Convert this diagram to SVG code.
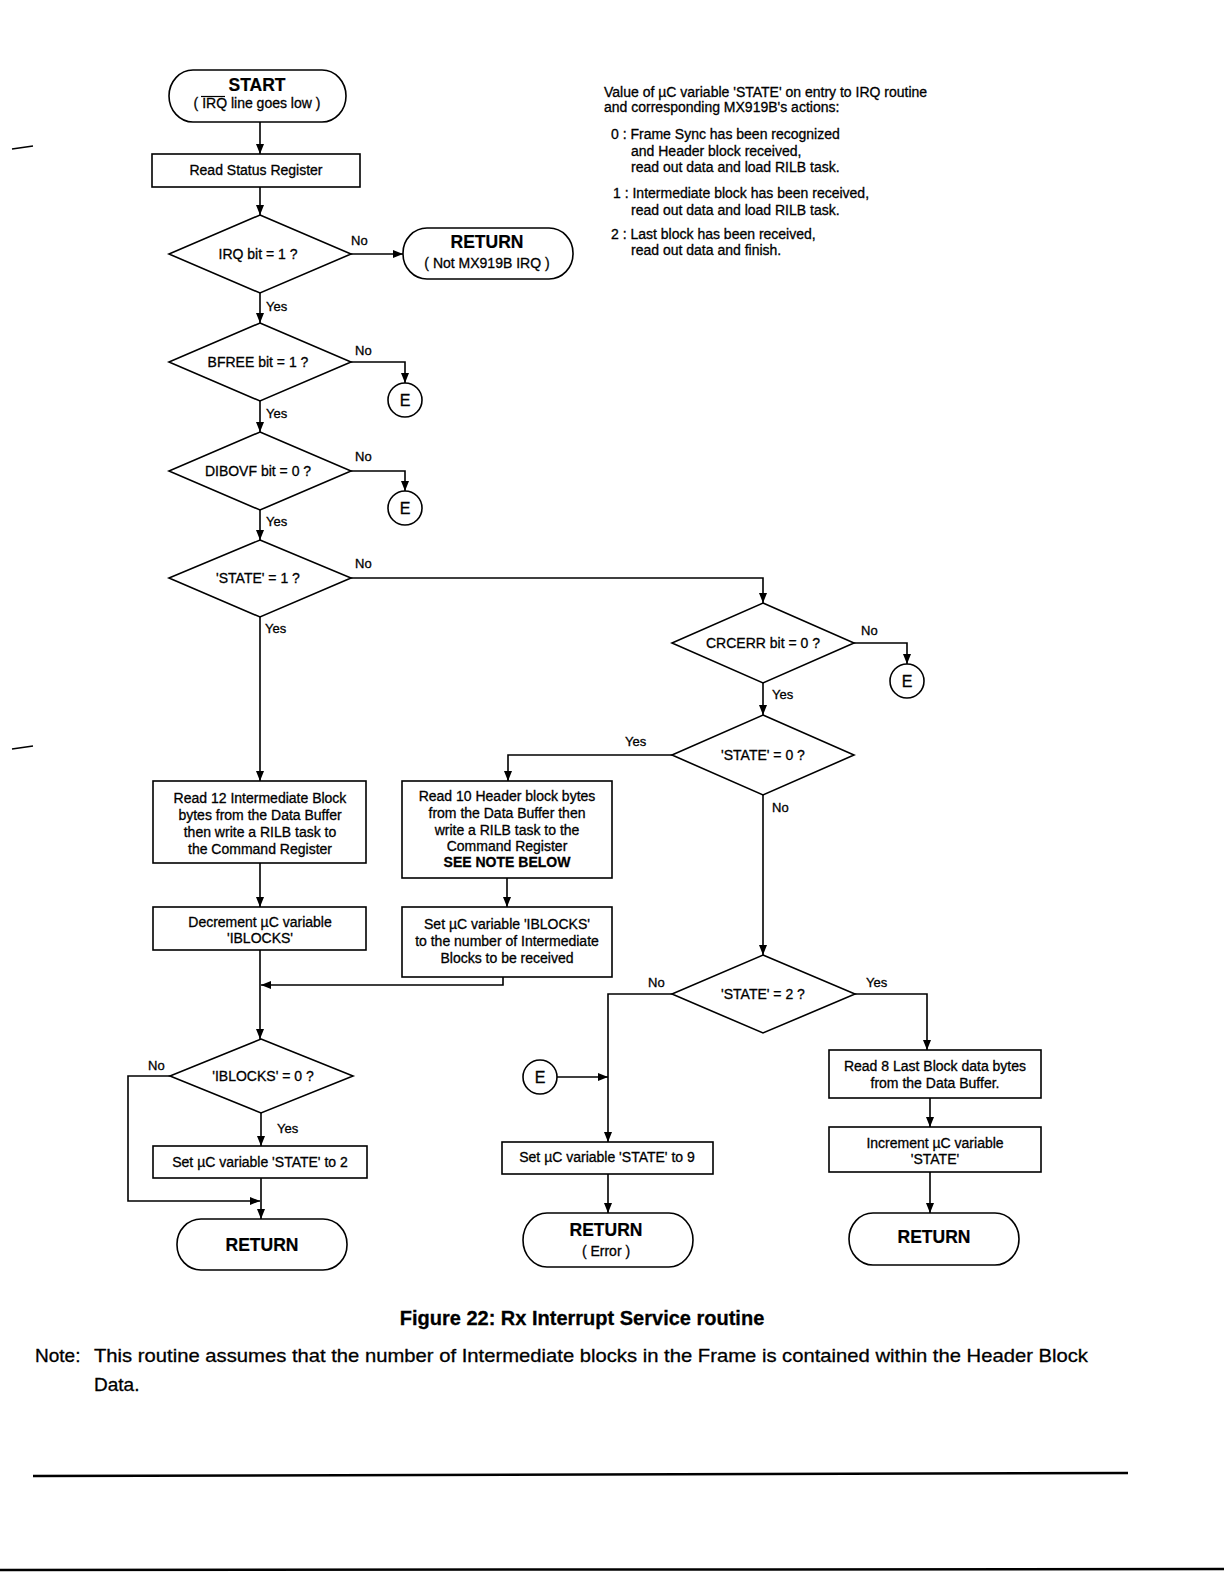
<svg xmlns="http://www.w3.org/2000/svg" width="1224" height="1584" viewBox="0 0 1224 1584">
<defs>
<marker id="ah" viewBox="0 0 10 8" refX="10" refY="4" markerWidth="10" markerHeight="8" markerUnits="userSpaceOnUse" orient="auto">
<path d="M0,0 L10,4 L0,8 Z" fill="#000"/>
</marker>
<style>
.s{fill:#fff;stroke:#000;stroke-width:1.6}
.ca{fill:none;stroke:#000;stroke-width:1.6;marker-end:url(#ah)}
text{font-family:"Liberation Sans",Arial,sans-serif;fill:#000;stroke:#000;stroke-width:0.3}
.t{font-size:14px;text-anchor:middle}
.b{font-size:17.5px;font-weight:bold;text-anchor:middle;stroke-width:0.2}
.l{font-size:13px}
.n{font-size:14px}
.e{font-size:16px;text-anchor:middle}
</style>
</defs>
<rect width="1224" height="1584" fill="#fff"/>

<g id="connectors">
<path class="ca" d="M260,122 V154"/>
<path class="ca" d="M260,187 V215"/>
<path class="ca" d="M351,254 H403"/>
<path class="ca" d="M260,293 V323"/>
<path class="ca" d="M351,362 H405 V383"/>
<path class="ca" d="M260,401 V432"/>
<path class="ca" d="M351,471 H405 V491"/>
<path class="ca" d="M260,510 V540"/>
<path class="ca" d="M351,578 H763 V603"/>
<path class="ca" d="M260,617 V781"/>
<path class="ca" d="M260,863 V907"/>
<path class="ca" d="M260,950 V1039"/>
<path class="ca" d="M503,977 V985 H261"/>
<path class="ca" d="M854,643 H907 V664"/>
<path class="ca" d="M763,683 V715"/>
<path class="ca" d="M672,755 H508 V781"/>
<path class="ca" d="M763,795 V955"/>
<path class="ca" d="M507,878 V907"/>
<path class="ca" d="M672,994 H608 V1142"/>
<path class="ca" d="M557,1077 H608"/>
<path class="ca" d="M855,994 H927 V1050"/>
<path class="ca" d="M930,1098 V1127"/>
<path class="ca" d="M930,1172 V1213"/>
<path class="ca" d="M608,1174 V1213"/>
<path class="ca" d="M170,1076 H128 V1201 H260"/>
<path class="ca" d="M261,1113 V1146"/>
<path class="ca" d="M261,1178 V1219"/>
<text class="l" x="351" y="245">No</text>
<text class="l" x="266" y="311">Yes</text>
<text class="l" x="355" y="355">No</text>
<text class="l" x="266" y="418">Yes</text>
<text class="l" x="355" y="461">No</text>
<text class="l" x="266" y="526">Yes</text>
<text class="l" x="355" y="568">No</text>
<text class="l" x="265" y="633">Yes</text>
<text class="l" x="861" y="635">No</text>
<text class="l" x="772" y="699">Yes</text>
<text class="l" x="625" y="746">Yes</text>
<text class="l" x="772" y="812">No</text>
<text class="l" x="648" y="987">No</text>
<text class="l" x="866" y="987">Yes</text>
<text class="l" x="148" y="1070">No</text>
<text class="l" x="277" y="1133">Yes</text>
</g>

<g id="start">
<rect class="s" x="169" y="70" width="177" height="52" rx="24" ry="26"/>
<text class="b" x="257" y="91">START</text>
<text class="t" x="257" y="108">( IRQ line goes  low )</text>
<line x1="201" y1="96.5" x2="225" y2="96.5" stroke="#000" stroke-width="1.2"/>
</g>
<g id="read-status">
<rect class="s" x="152" y="154" width="208" height="33"/>
<text class="t" x="256" y="175">Read Status Register</text>
</g>
<g id="irq-bit">
<polygon class="s" points="260,215 351,254 260,293 169,254"/>
<text class="t" x="258" y="259">IRQ bit = 1 ?</text>
</g>
<g id="return-not">
<rect class="s" x="403" y="228" width="170" height="51" rx="24" ry="25"/>
<text class="b" x="487" y="248">RETURN</text>
<text class="t" x="487" y="268">( Not MX919B IRQ )</text>
</g>
<g id="bfree">
<polygon class="s" points="260,323 351,362 260,401 169,362"/>
<text class="t" x="258" y="367">BFREE bit = 1 ?</text>
</g>
<g id="e1">
<circle class="s" cx="405" cy="400" r="17"/>
<text class="e" x="405" y="406">E</text>
</g>
<g id="dibovf">
<polygon class="s" points="260,432 351,471 260,510 169,471"/>
<text class="t" x="258" y="476">DIBOVF bit = 0 ?</text>
</g>
<g id="e2">
<circle class="s" cx="405" cy="508" r="17"/>
<text class="e" x="405" y="514">E</text>
</g>
<g id="state1">
<polygon class="s" points="260,540 351,578 260,617 169,578"/>
<text class="t" x="258" y="583">'STATE' = 1 ?</text>
</g>
<g id="read12">
<rect class="s" x="153" y="781" width="213" height="82"/>
<text class="t" x="260" y="803">Read 12 Intermediate Block</text>
<text class="t" x="260" y="820">bytes from the Data Buffer</text>
<text class="t" x="260" y="837">then write a RILB task to</text>
<text class="t" x="260" y="854">the Command Register</text>
</g>
<g id="decrement">
<rect class="s" x="153" y="907" width="213" height="43"/>
<text class="t" x="260" y="927">Decrement µC variable</text>
<text class="t" x="260" y="943">'IBLOCKS'</text>
</g>
<g id="crcerr">
<polygon class="s" points="763,603 854,643 763,683 672,643"/>
<text class="t" x="763" y="648">CRCERR bit = 0 ?</text>
</g>
<g id="e3">
<circle class="s" cx="907" cy="681" r="17"/>
<text class="e" x="907" y="687">E</text>
</g>
<g id="state0">
<polygon class="s" points="763,715 854,755 763,795 672,755"/>
<text class="t" x="763" y="760">'STATE' = 0 ?</text>
</g>
<g id="read10">
<rect class="s" x="402" y="781" width="210" height="97"/>
<text class="t" x="507" y="801">Read 10 Header block bytes</text>
<text class="t" x="507" y="818">from the Data Buffer then</text>
<text class="t" x="507" y="835">write a RILB task to the</text>
<text class="t" x="507" y="851">Command Register</text>
<text class="t" x="507" y="867" font-weight="bold" stroke-width="0.1">SEE NOTE BELOW</text>
</g>
<g id="set-iblocks">
<rect class="s" x="402" y="907" width="210" height="70"/>
<text class="t" x="507" y="929">Set µC variable 'IBLOCKS'</text>
<text class="t" x="507" y="946">to the number of Intermediate</text>
<text class="t" x="507" y="963">Blocks to be received</text>
</g>
<g id="state2">
<polygon class="s" points="763,955 855,994 763,1033 672,994"/>
<text class="t" x="763" y="999">'STATE' = 2 ?</text>
</g>
<g id="e4">
<circle class="s" cx="540" cy="1077" r="17"/>
<text class="e" x="540" y="1083">E</text>
</g>
<g id="read8">
<rect class="s" x="829" y="1050" width="212" height="48"/>
<text class="t" x="935" y="1071">Read 8 Last Block data bytes</text>
<text class="t" x="935" y="1088">from the Data Buffer.</text>
</g>
<g id="increment">
<rect class="s" x="829" y="1127" width="212" height="45"/>
<text class="t" x="935" y="1148">Increment µC variable</text>
<text class="t" x="935" y="1164">'STATE'</text>
</g>
<g id="return-right">
<rect class="s" x="849" y="1213" width="170" height="52" rx="24" ry="26"/>
<text class="b" x="934" y="1243">RETURN</text>
</g>
<g id="set9">
<rect class="s" x="502" y="1142" width="211" height="32"/>
<text class="t" x="607" y="1162">Set µC variable 'STATE' to 9</text>
</g>
<g id="return-error">
<rect class="s" x="523" y="1213" width="170" height="54" rx="24" ry="27"/>
<text class="b" x="606" y="1236">RETURN</text>
<text class="t" x="606" y="1256">( Error )</text>
</g>
<g id="iblocks0">
<polygon class="s" points="261,1039 353,1076 261,1113 170,1076"/>
<text class="t" x="263" y="1081">'IBLOCKS' = 0 ?</text>
</g>
<g id="set2">
<rect class="s" x="153" y="1146" width="214" height="32"/>
<text class="t" x="260" y="1167">Set µC variable 'STATE' to 2</text>
</g>
<g id="return-left">
<rect class="s" x="177" y="1219" width="170" height="51" rx="24" ry="25"/>
<text class="b" x="262" y="1251">RETURN</text>
</g>

<g id="legend">
<text class="n" x="604" y="97">Value of µC variable 'STATE' on entry to IRQ routine</text>
<text class="n" x="604" y="112">and corresponding MX919B's actions:</text>
<text class="n" x="611" y="139">0 : Frame Sync has been recognized</text>
<text class="n" x="631" y="156">and Header block received,</text>
<text class="n" x="631" y="172">read out data and load RILB task.</text>
<text class="n" x="613" y="198">1 : Intermediate block has been received,</text>
<text class="n" x="631" y="215">read out data and load RILB task.</text>
<text class="n" x="611" y="239">2 : Last block has been received,</text>
<text class="n" x="631" y="255">read out data and finish.</text>
</g>

<g id="caption">
<text x="582" y="1325" font-size="20" font-weight="bold" text-anchor="middle" stroke-width="0.1">Figure 22:  Rx Interrupt Service routine</text>
<text x="35" y="1362" font-size="19" stroke-width="0.1">Note:</text>
<text x="94" y="1362" font-size="19" stroke-width="0.1" textLength="994" lengthAdjust="spacingAndGlyphs">This routine assumes that the number of Intermediate blocks in the Frame is contained within the Header Block</text>
<text x="94" y="1391" font-size="19" stroke-width="0.1">Data.</text>
</g>

<g id="page-rules">
<line x1="33" y1="1476" x2="1128" y2="1473" stroke="#000" stroke-width="2.5"/>
<line x1="0" y1="1570" x2="1224" y2="1569" stroke="#000" stroke-width="2.5"/>
<line x1="12" y1="149" x2="33" y2="146" stroke="#000" stroke-width="1.5"/>
<line x1="12" y1="749" x2="33" y2="746" stroke="#000" stroke-width="1.5"/>
</g>
</svg>
